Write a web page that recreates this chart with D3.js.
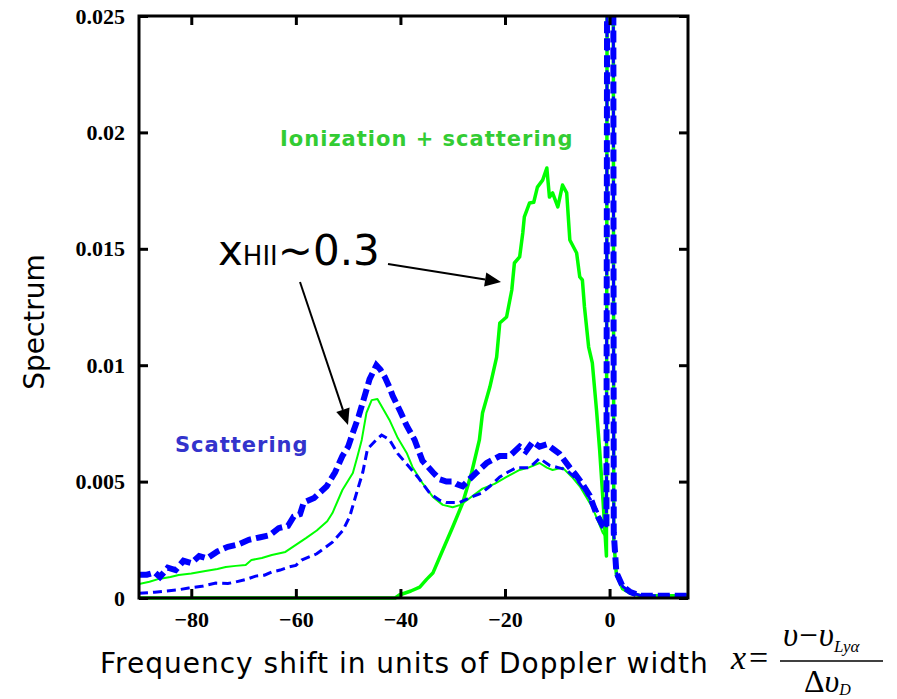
<!DOCTYPE html>
<html>
<head>
<meta charset="utf-8">
<script src="https://cdn.jsdelivr.net/npm/d3@7"></script>
<style>
  body { margin: 0; background: #fff; }
</style>
</head>
<body>
<svg id="viz"></svg>
<script>
// tick values and labels
const xTicks = [-80, -60, -40, -20, 0];
const xTickLabels = ['\u221280', '\u221260', '\u221240', '\u221220', '0'];
const yTicks = [0, 0.005, 0.01, 0.015, 0.02, 0.025];
const yTickLabels = ['0', '0.005', '0.01', '0.015', '0.02', '0.025'];

// scattering only, x_HII ~ 0.3 (thick dashed blue)
const scatterHigh = [
  [-90, 0.0010], [-88.5, 0.0010], [-87, 0.0011], [-86, 0.0009], [-84.5, 0.0013], [-83, 0.0012],
  [-81.5, 0.0016], [-80, 0.0015], [-78.5, 0.0018], [-77, 0.0017], [-75, 0.0020], [-73, 0.0022],
  [-71, 0.0023], [-69, 0.0025], [-67, 0.0026], [-65, 0.0027], [-63.3, 0.0030], [-61.5, 0.0031],
  [-60.4, 0.0035], [-59.2, 0.0036], [-58.5, 0.0041], [-56.5, 0.0043], [-54.1, 0.0048], [-52.5, 0.0054],
  [-51.1, 0.0061], [-50, 0.0065], [-49.1, 0.0071], [-48, 0.0078], [-47.2, 0.0084], [-45.9, 0.0094],
  [-44.6, 0.0100], [-43.8, 0.0098], [-43, 0.0095], [-42, 0.0090], [-41.5, 0.0087], [-40, 0.0080],
  [-38.8, 0.0074], [-37.3, 0.0068], [-35.8, 0.0059], [-33.8, 0.0054], [-32.5, 0.0051], [-31.2, 0.0050],
  [-30, 0.0050], [-29.3, 0.0049], [-28.1, 0.0048], [-26.8, 0.0051], [-25.4, 0.0054], [-23.5, 0.0058],
  [-21, 0.0061], [-19.1, 0.0061], [-17.2, 0.0065], [-16, 0.0063], [-14.7, 0.0067], [-13.4, 0.0065],
  [-12, 0.0066], [-10.8, 0.0064], [-9.6, 0.0062], [-7.6, 0.0056], [-6.5, 0.0053], [-5.2, 0.0049],
  [-3.8, 0.0044], [-2.5, 0.0036], [-1.3, 0.0031], [-0.6, 0.0030], [-0.3, 0.06], [0.6, 0.06],
  [0.8, 0.0028], [1.3, 0.0011], [2.5, 0.0005], [4, 0.00025], [6, 0.0001], [10, 0.0001], [15, 0.0001]
];

// scattering only, lower case (thin dashed blue)
const scatterLow = [
  [-90, 0.0002], [-87, 0.00025], [-84.9, 0.0003], [-82.5, 0.00035], [-80.5, 0.00043], [-78, 0.0005],
  [-75.3, 0.00064], [-73, 0.00062], [-71.5, 0.00069], [-69.5, 0.0008], [-67.7, 0.00094], [-66, 0.00098],
  [-64.6, 0.00112], [-63, 0.0012], [-61.4, 0.00133], [-60, 0.0014], [-58.9, 0.00163], [-56, 0.0019],
  [-53, 0.0024], [-51, 0.0029], [-49.7, 0.0035], [-48.4, 0.0045], [-47.2, 0.0054], [-46.3, 0.0064],
  [-44.6, 0.0068], [-43.6, 0.0070], [-42.1, 0.0068], [-40.5, 0.0062], [-38.6, 0.0057], [-36.7, 0.0052],
  [-34.4, 0.0045], [-32.5, 0.0042], [-31.2, 0.0041], [-28.7, 0.0041], [-26.8, 0.0043], [-24.5, 0.0045],
  [-22.9, 0.0048], [-21, 0.0052], [-19.5, 0.0054], [-17.8, 0.0056], [-15.3, 0.0056], [-13.4, 0.0060],
  [-11.5, 0.0057], [-9.8, 0.0056], [-8.2, 0.0055], [-6.3, 0.0051], [-4.4, 0.0045], [-2.5, 0.0038],
  [-1.3, 0.0032], [-0.6, 0.0030], [-0.3, 0.06], [0.6, 0.06], [0.8, 0.0028], [1.3, 0.0011],
  [2.5, 0.0005], [4, 0.00025], [6, 0.0001], [15, 0.0001]
];

// scattering only, middle case (thin solid green)
const scatterMid = [
  [-90, 0.0006], [-88, 0.0007], [-86.2, 0.00082], [-84, 0.0009], [-82.4, 0.00099], [-80, 0.00105],
  [-77.3, 0.00116], [-75, 0.00125], [-73.4, 0.00133], [-71.5, 0.00138], [-69.6, 0.00142], [-68.5, 0.00163],
  [-66.5, 0.00172], [-64.6, 0.00185], [-62, 0.00198], [-60, 0.00228], [-58, 0.00258], [-56, 0.0029],
  [-54, 0.0033], [-53, 0.00365], [-51.1, 0.00464], [-49.1, 0.00537], [-48.2, 0.0061], [-47.4, 0.00679],
  [-46.5, 0.00795], [-45.5, 0.0085], [-44.4, 0.00855], [-43, 0.0080], [-42.1, 0.00765], [-40.5, 0.00687],
  [-38.8, 0.00623], [-37.7, 0.00563], [-35.8, 0.00494], [-33.8, 0.00434], [-31.9, 0.0040], [-30, 0.0039],
  [-28.5, 0.0040], [-27.3, 0.0042], [-24.3, 0.0047], [-22, 0.0049], [-19.7, 0.0052], [-17.2, 0.0055],
  [-15.5, 0.0056], [-13.4, 0.0058], [-12, 0.0056], [-10.9, 0.0055], [-9, 0.0056], [-7.2, 0.0052],
  [-5.7, 0.0048], [-3.3, 0.0039], [-1.3, 0.0028], [-0.6, 0.0026], [-0.3, 0.06], [0.6, 0.06],
  [0.8, 0.0025], [1.3, 0.0010], [2.5, 0.0004], [4, 0.0002], [6, 0.0001], [15, 0.0001]
];

// ionization + scattering (thick solid green)
const ionScatter = [
  [-90, 0], [-41, 0], [-40.2, 0.00013], [-38, 0.0003], [-36.3, 0.00047], [-35, 0.0008],
  [-33.8, 0.00107], [-31.9, 0.00206], [-30, 0.00305], [-28.1, 0.00408], [-26.4, 0.00537], [-24.9, 0.00679],
  [-24.3, 0.00795], [-22.9, 0.00906], [-21.6, 0.01035], [-21, 0.01181], [-19.7, 0.01207], [-18.7, 0.01323],
  [-18.2, 0.01439], [-17.2, 0.01465], [-16.6, 0.01568], [-16.3, 0.01637], [-15.3, 0.01697], [-14.5, 0.0170],
  [-13.8, 0.01765], [-12.8, 0.01795], [-12, 0.01847], [-11.5, 0.01722], [-10.9, 0.0174], [-9.9, 0.0168],
  [-9, 0.01774], [-8.2, 0.0174], [-7.6, 0.01538], [-6.3, 0.01482], [-5.7, 0.01379], [-5.2, 0.01366],
  [-4.8, 0.0125], [-4, 0.01078], [-3.3, 0.0101], [-2.5, 0.00808], [-1.9, 0.00636], [-1.2, 0.0040],
  [-0.6, 0.0018], [-0.3, 0.06], [0.6, 0.06], [0.8, 0.0025], [1.3, 0.0010], [2.5, 0.0004],
  [4, 0.0002], [6, 0.0001], [15, 0.0001]
];

const W = 897, H = 699;
const margin = { top: 16, right: 209, bottom: 101, left: 139 };
const width = W - margin.left - margin.right;
const height = H - margin.top - margin.bottom;

const svg = d3.select('#viz').attr('width', W).attr('height', H);

svg.append('rect').attr('width', W).attr('height', H).attr('fill', '#fff');

const g = svg.append('g')
  .attr('transform', 'translate(' + margin.left + ',' + margin.top + ')');

const x = d3.scaleLinear().domain([-90, 15]).range([0, width]);
const y = d3.scaleLinear().domain([0, 0.025]).range([height, 0]);

g.append('clipPath').attr('id', 'plotclip')
  .append('rect').attr('x', 0).attr('y', 0).attr('width', width).attr('height', height + 2);

const line = d3.line().x((d) => x(d[0])).y((d) => y(d[1]));

const curves = g.append('g').attr('clip-path', 'url(#plotclip)');

curves.append('path').datum(ionScatter)
  .attr('d', line).attr('fill', 'none')
  .attr('stroke', '#00ff00').attr('stroke-width', 3.5).attr('stroke-linejoin', 'round');

curves.append('path').datum(scatterMid)
  .attr('d', line).attr('fill', 'none')
  .attr('stroke', '#00ff00').attr('stroke-width', 2).attr('stroke-linejoin', 'round');

curves.append('path').datum(scatterLow)
  .attr('d', line).attr('fill', 'none')
  .attr('stroke', '#0000ff').attr('stroke-width', 3)
  .attr('stroke-dasharray', '9,5');

curves.append('path').datum(scatterHigh)
  .attr('d', line).attr('fill', 'none')
  .attr('stroke', '#0000ff').attr('stroke-width', 6)
  .attr('stroke-dasharray', '12,5');

// frame with inward ticks on all sides
g.append('rect')
  .attr('x', 0).attr('y', 0).attr('width', width).attr('height', height)
  .attr('fill', 'none').attr('stroke', '#000').attr('stroke-width', 3);

const tickLen = 9;
const tickFont = (a) => a
  .style('font-family', '"Liberation Serif", serif')
  .style('font-weight', 'bold').style('font-size', '22px');

g.append('g').attr('transform', 'translate(0,' + height + ')')
  .call(d3.axisBottom(x).tickValues(xTicks).tickSize(-tickLen)
    .tickFormat((d, i) => xTickLabels[i]))
  .call((a) => a.select('.domain').remove())
  .call((a) => a.selectAll('line').attr('stroke-width', 3))
  .call((a) => a.selectAll('text').attr('y', 13).attr('dy', '0.71em').call(tickFont));

g.append('g')
  .call(d3.axisTop(x).tickValues(xTicks).tickSize(-tickLen).tickFormat(''))
  .call((a) => a.select('.domain').remove())
  .call((a) => a.selectAll('line').attr('stroke-width', 3));

g.append('g')
  .call(d3.axisLeft(y).tickValues(yTicks).tickSize(-tickLen)
    .tickFormat((d, i) => yTickLabels[i]))
  .call((a) => a.select('.domain').remove())
  .call((a) => a.selectAll('line').attr('stroke-width', 3))
  .call((a) => a.selectAll('text').attr('x', -14).call(tickFont));

g.append('g').attr('transform', 'translate(' + width + ',0)')
  .call(d3.axisRight(y).tickValues(yTicks).tickSize(-tickLen).tickFormat(''))
  .call((a) => a.select('.domain').remove())
  .call((a) => a.selectAll('line').attr('stroke-width', 3));

// axis titles
svg.append('text')
  .attr('transform', 'translate(44,322) rotate(-90)')
  .attr('text-anchor', 'middle')
  .style('font-family', '"DejaVu Sans", sans-serif')
  .style('font-size', '28px')
  .text('Spectrum');

svg.append('text')
  .attr('x', 100).attr('y', 673)
  .style('font-family', '"DejaVu Sans", sans-serif')
  .style('font-size', '28px')
  .style('letter-spacing', '1px')
  .text('Frequency shift in units of Doppler width');

// annotations
svg.append('text')
  .attr('x', 280).attr('y', 146)
  .attr('fill', '#33cc33')
  .style('font-family', '"DejaVu Sans", sans-serif')
  .style('font-weight', 'bold').style('font-size', '21px')
  .style('letter-spacing', '1px')
  .text('Ionization + scattering');

svg.append('text')
  .attr('x', 175).attr('y', 452)
  .attr('fill', '#3333cc')
  .style('font-family', '"DejaVu Sans", sans-serif')
  .style('font-weight', 'bold').style('font-size', '21px')
  .style('letter-spacing', '1px')
  .text('Scattering');

const xhii = svg.append('text')
  .attr('x', 218).attr('y', 265)
  .style('font-family', '"DejaVu Sans", sans-serif')
  .style('font-size', '42px');
xhii.append('tspan').text('x');
xhii.append('tspan').style('font-size', '26px').text('HII');
xhii.append('tspan').text('~0.3');

const arrow = (x1, y1, x2, y2) => {
  var ang = Math.atan2(y2 - y1, x2 - x1);
  var len = 16, half = 7;
  var bx = x2 - len * Math.cos(ang), by = y2 - len * Math.sin(ang);
  svg.append('line')
    .attr('x1', x1).attr('y1', y1).attr('x2', bx).attr('y2', by)
    .attr('stroke', '#000').attr('stroke-width', 2);
  svg.append('polygon')
    .attr('points', [
      [x2, y2],
      [bx + half * Math.sin(ang), by - half * Math.cos(ang)],
      [bx - half * Math.sin(ang), by + half * Math.cos(ang)]
    ].map((p) => p.join(',')).join(' '))
    .attr('fill', '#000');
};
arrow(300, 282, 348, 425);
arrow(388, 264, 501, 282);

// formula x = (v - v_Lya) / dv_D
const serif = '"Liberation Serif", "DejaVu Serif", serif';
svg.append('text')
  .attr('x', 731).attr('y', 669)
  .style('font-family', serif).style('font-size', '34px')
  .call((t) => {
    t.append('tspan').style('font-style', 'italic').text('x');
    t.append('tspan').attr('dx', 3).text('=');
  });

svg.append('text')
  .attr('x', 783).attr('y', 646)
  .style('font-family', serif).style('font-size', '33px')
  .call((t) => {
    t.append('tspan').style('font-style', 'italic').text('\u03c5');
    t.append('tspan').attr('dx', 1).text('\u2212');
    t.append('tspan').attr('dx', 1).style('font-style', 'italic').text('\u03c5');
    t.append('tspan').attr('dy', 6).style('font-style', 'italic').style('font-size', '17px').text('Ly\u03b1');
  });

svg.append('line')
  .attr('x1', 780).attr('x2', 883).attr('y1', 661).attr('y2', 661)
  .attr('stroke', '#000').attr('stroke-width', 1.5);

svg.append('text')
  .attr('x', 804).attr('y', 692)
  .style('font-family', serif).style('font-size', '32px')
  .call((t) => {
    t.append('tspan').text('\u0394');
    t.append('tspan').style('font-style', 'italic').text('\u03c5');
    t.append('tspan').attr('dy', 3).style('font-style', 'italic').style('font-size', '16px').text('D');
  });
</script>
</body>
</html>
